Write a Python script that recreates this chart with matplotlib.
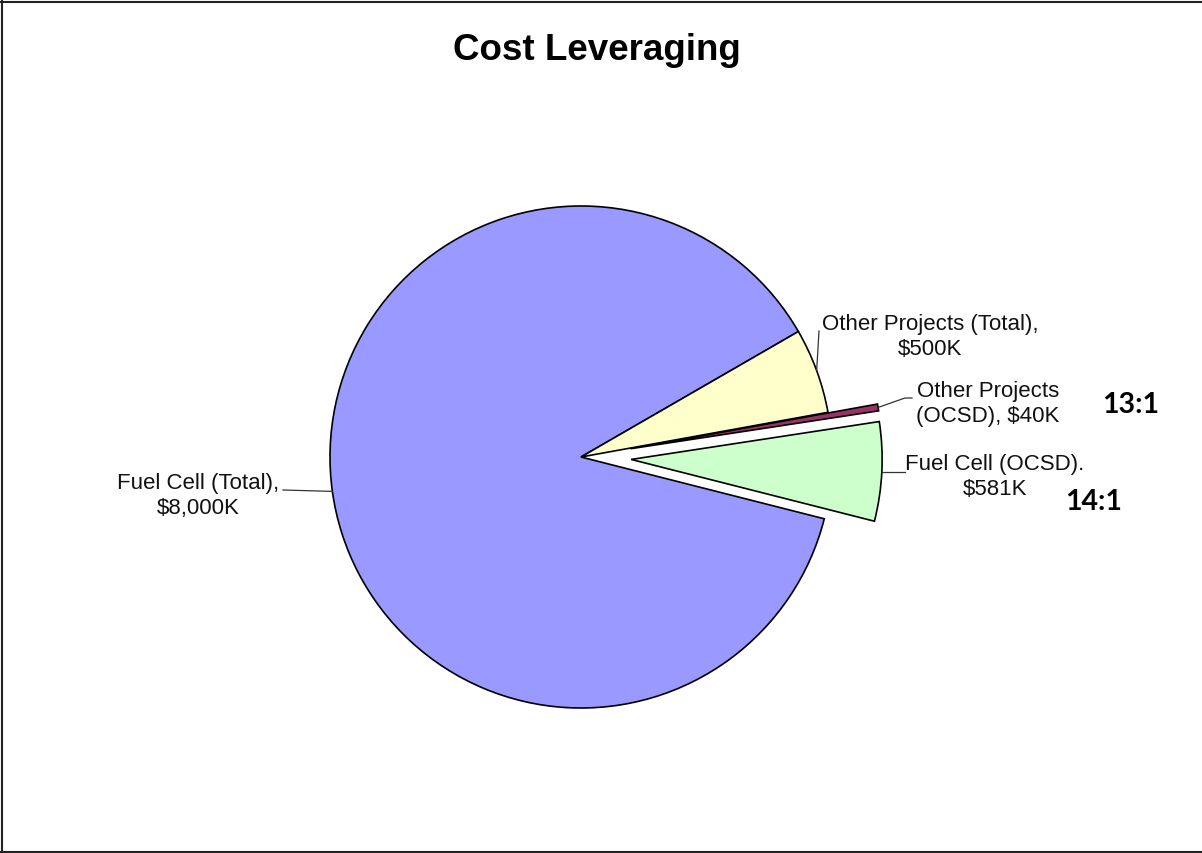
import numpy as np
import matplotlib
matplotlib.use("Agg")
import matplotlib.pyplot as plt
from matplotlib.lines import Line2D

labels = ["Fuel Cell (Total),\n$8,000K", "Other Projects (Total),\n$500K",
          "Other Projects\n(OCSD), $40K", "Fuel Cell (OCSD).\n$581K"]
values = [8000, 500, 40, 581]          # $K
pulled = [False, False, True, True]    # slices pulled out of the pie
colors = ["#9999FF", "#FFFFCC", "#993366", "#CCFFCC"]
ratios = ["13:1", "14:1"]

W, H = 1202, 854
fig = plt.figure(figsize=(W / 100, H / 100), dpi=100)
ax = fig.add_axes([0, 0, 1, 1])

cx, cy, R = 581, H - 458, 251
# pie's explode is absolute, so scale by the radius
explode = [0.2 * R if p else 0 for p in pulled]
wedges, _ = ax.pie(values, explode=explode, colors=colors, startangle=-14.25,
                   counterclock=False, radius=R, center=(cx, cy),
                   wedgeprops=dict(edgecolor="black", linewidth=1.2))
ax.set_xlim(0, W)
ax.set_ylim(0, H)
ax.set_aspect("equal")
ax.axis("off")


def edge_point(w):
    # point on the outer arc at the wedge's mid angle (explode shift included)
    a = np.deg2rad((w.theta1 + w.theta2) / 2)
    x0, y0 = w.center
    return x0 + w.r * np.cos(a), y0 + w.r * np.sin(a)


lk = dict(color="#333333", lw=0.9)
tk = dict(fontsize=16, family="Liberation Sans", ha="center", va="center",
          color="#111111", linespacing=1.25)

# Fuel Cell (Total)
x, y = edge_point(wedges[0])
ax.plot([283, x], [H - 491, y], **lk)
ax.text(198, H - 496, labels[0], **tk)

# Other Projects (Total)
x, y = edge_point(wedges[1])
ax.plot([x, 819], [y, H - 332], **lk)
ax.text(930, H - 337, labels[1], **tk)

# Other Projects (OCSD)
x, y = edge_point(wedges[2])
ax.plot([x, 905, 912], [y, H - 399, H - 399], **lk)
ax.text(988, H - 404, labels[2], **tk)

# Fuel Cell (OCSD)
x, y = edge_point(wedges[3])
ax.plot([x, 905], [y, y], **lk)
ax.text(995, H - 477, labels[3], **tk)

rk = dict(fontsize=20.5, family="Lato", fontweight="bold", ha="center",
          va="center", color="black")
ax.text(1131, H - 405, ratios[0], **rk)
ax.text(1094, H - 502, ratios[1], **rk)

fig.text(597 / W, 1 - 50 / H, "Cost Leveraging", fontsize=26.5,
         family="Liberation Sans", fontweight="bold", ha="center", va="center")

# frame on top, left and bottom
bk = dict(color="#222222", lw=1.5, transform=fig.transFigure)
fig.add_artist(Line2D([1.5 / W, 1.5 / W], [0, 1], **bk))
fig.add_artist(Line2D([0, 1], [1 - 2.5 / H, 1 - 2.5 / H], **bk))
fig.add_artist(Line2D([0, 1], [1.5 / H, 1.5 / H], **bk))

fig.savefig("out.png", dpi=100, facecolor="white")
